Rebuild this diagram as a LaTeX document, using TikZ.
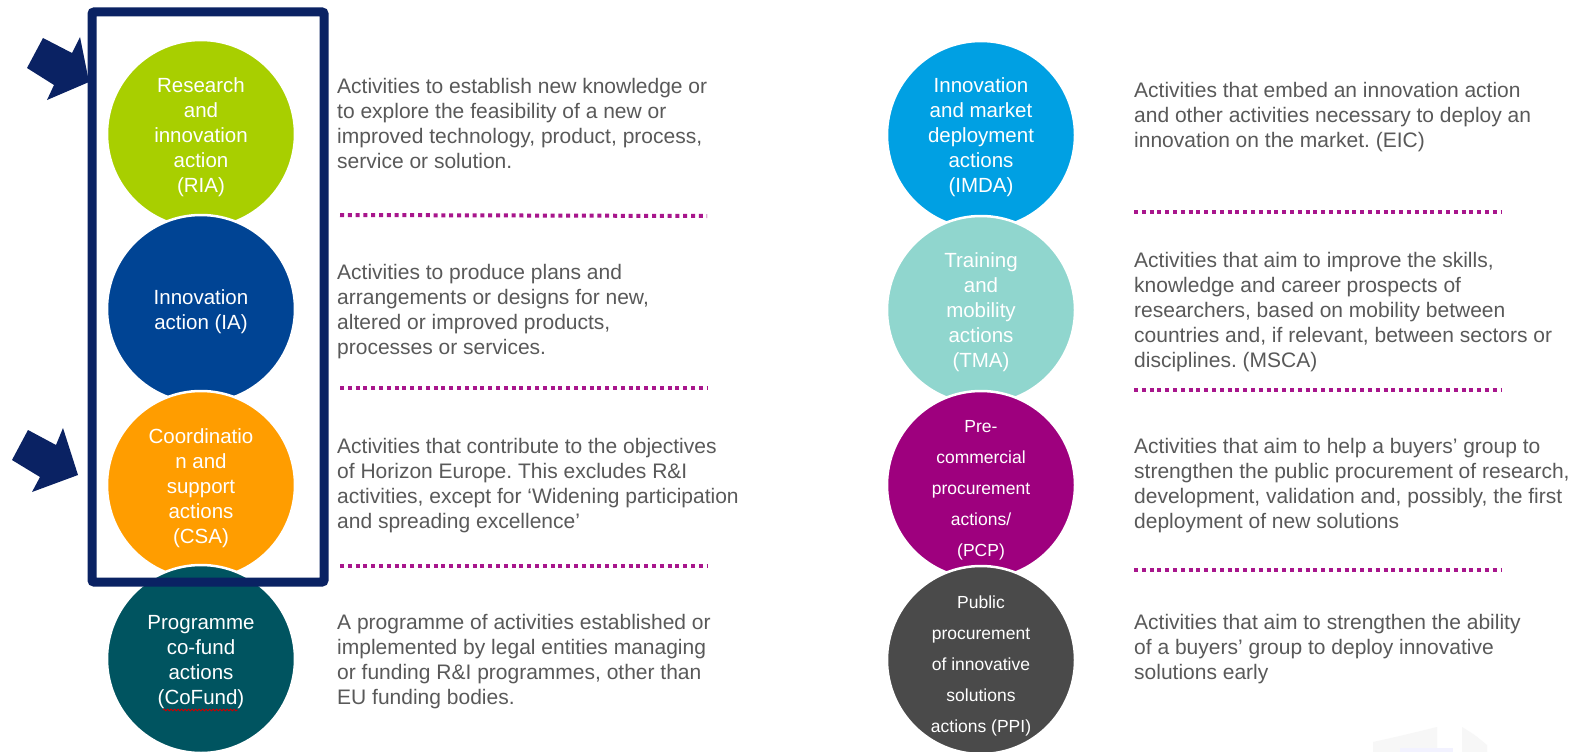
\documentclass[tikz,border=0pt]{standalone}
\usepackage{fontspec}
\setmainfont{Liberation Sans}
\usetikzlibrary{decorations.pathmorphing}
\definecolor{navy}{HTML}{0A2263}
\definecolor{ria}{HTML}{A8CF00}
\definecolor{ia}{HTML}{004494}
\definecolor{csa}{HTML}{FF9D00}
\definecolor{cofund}{HTML}{005460}
\definecolor{imda}{HTML}{00A0E3}
\definecolor{tma}{HTML}{90D6CE}
\definecolor{pcp}{HTML}{9E007E}
\definecolor{ppi}{HTML}{4A4A4A}
\definecolor{dotmag}{HTML}{A8168C}
\definecolor{txt}{HTML}{595959}
\frenchspacing
\begin{document}
\begin{tikzpicture}[x=1pt,y=-1pt,
  bubble/.style={circle, minimum size=188pt, inner sep=0pt, draw=white, line width=2.5pt},
  btext/.style={inner sep=0pt, text=white, align=center, font=\fontsize{20.5}{25}\selectfont},
  smallbtext/.style={btext, font=\fontsize{17.5}{31}\selectfont},
  desc/.style={anchor=north west, inner sep=0pt, align=left, text=txt,
    font=\fontsize{21}{25}\selectfont},
  dotline/.style={draw=dotmag, line width=4pt, dash pattern=on 4pt off 3.8pt},
  pointer/.style={fill=navy}
]
\useasboundingbox (0,0) rectangle (1571,752);
\fill[white] (0,0) rectangle (1571,752);

% left column circles
\node[bubble, fill=ria] (ria) at (201,134) {};
\node[btext] (riat) at (201,137) {Research\\and\\innovation\\action\\(RIA)};
\node[bubble, fill=ia] (ia) at (201,309) {};
\node[btext] (iat) at (201,312) {Innovation\\action (IA)};
\node[bubble, fill=csa] (csa) at (201,485) {};
\node[btext] (csat) at (201,488) {Coordinatio\\n and\\support\\actions\\(CSA)};
\node[bubble, fill=cofund] (cofund) at (201,659) {};
\node[btext] (cofundt) at (201,662) {Programme\\co-fund\\actions\\(CoFund)};

% right column circles
\node[bubble, fill=imda] (imda) at (981,135) {};
\node[btext] (imdat) at (981,137) {Innovation\\and market\\deployment\\actions\\(IMDA)};
\node[bubble, fill=tma] (tma) at (981,310) {};
\node[btext] (tmat) at (981,312) {Training\\and\\mobility\\actions\\(TMA)};
\node[bubble, fill=pcp] (pcp) at (981,485) {};
\node[smallbtext] (pcpt) at (981,490) {Pre-\\commercial\\procurement\\actions/\\(PCP)};
\node[bubble, fill=ppi] (ppi) at (981,660) {};
\node[smallbtext] (ppit) at (981,666) {Public\\procurement\\of innovative\\solutions\\actions (PPI)};

% spell-check underline under CoFund
\draw[red!80!black, line width=0.8pt, decorate, decoration={snake, amplitude=0.9pt, segment length=3.5pt}]
  (163,710) -- (238,710);

% highlight box
\draw[navy, line width=9pt, rounded corners=2pt] (92,12) rectangle (324,582);

% pointer arrows
\fill[pointer] (43,38) -- (72,53) -- (80,37) -- (89,82) -- (47,100) -- (54,85) -- (27,68) -- cycle;
\fill[pointer] (28,430) -- (56,445) -- (63,428) -- (78,475) -- (32,492) -- (40,477) -- (12,460) -- cycle;

% left descriptions
\node[desc] (dria) at (337,75.5) {\strut Activities to establish new knowledge or\\to explore the feasibility of a new or\\improved technology, product, process,\\service or solution.};
\node[desc] (dia) at (337,261.5) {\strut Activities to produce plans and\\arrangements or designs for new,\\altered or improved products,\\processes or services.};
\node[desc] (dcsa) at (337,435.5) {\strut Activities that contribute to the objectives\\of Horizon Europe. This excludes R\&I\\activities, except for ‘Widening participation\\and spreading excellence’};
\node[desc] (dcofund) at (337,611.5) {\strut A programme of activities established or\\implemented by legal entities managing\\or funding R\&I programmes, other than\\EU funding bodies.};

% right descriptions
\node[desc] (dimda) at (1134,79.5) {\strut Activities that embed an innovation action\\and other activities necessary to deploy an\\innovation on the market. (EIC)};
\node[desc] (dtma) at (1134,249.5) {\strut Activities that aim to improve the skills,\\knowledge and career prospects of\\researchers, based on mobility between\\countries and, if relevant, between sectors or\\disciplines. (MSCA)};
\node[desc] (dpcp) at (1134,435.5) {\strut Activities that aim to help a buyers’ group to\\strengthen the public procurement of research,\\development, validation and, possibly, the first\\deployment of new solutions};
\node[desc] (dppi) at (1134,611.5) {\strut Activities that aim to strengthen the ability\\of a buyers’ group to deploy innovative\\solutions early};

% dotted separators
\draw[dotline] (340,215) -- (707,216);
\draw[dotline] (340,388) -- (707,388);
\draw[dotline] (340,566) -- (707,566);
\draw[dotline] (1134,212) -- (1501,212);
\draw[dotline] (1134,390) -- (1501,390);
\draw[dotline] (1134,570) -- (1501,570);

% faint logo in the corner
\fill[gray!6] (1373,752) -- (1373,742) .. controls (1400,736) .. (1437,727) -- (1437,752) -- cycle;
\fill[gray!6] (1462,727) .. controls (1475,735) .. (1487,745) -- (1487,752) -- (1462,752) -- cycle;
\fill[blue!5] (1400,748) rectangle (1453,752);
\end{tikzpicture}
\end{document}
